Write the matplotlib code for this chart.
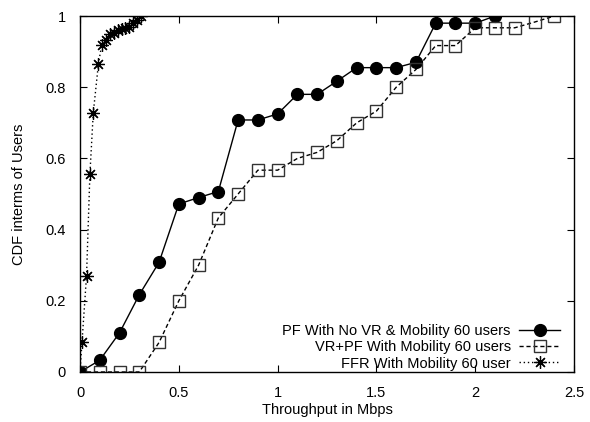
import matplotlib
matplotlib.use('Agg')
import matplotlib.pyplot as plt

# Throughput samples (Mbps) and CDF values
pf_x = [0.0, 0.1, 0.2, 0.3, 0.4, 0.5, 0.6, 0.7, 0.8, 0.9, 1.0,
        1.1, 1.2, 1.3, 1.4, 1.5, 1.6, 1.7, 1.8, 1.9, 2.0, 2.1]
pf_y = [0.0, 0.033, 0.11, 0.217, 0.308, 0.472, 0.49, 0.507, 0.708, 0.708, 0.725,
        0.78, 0.78, 0.817, 0.855, 0.855, 0.855, 0.87, 0.98, 0.98, 0.98, 1.0]

vrpf_x = [0.0, 0.1, 0.2, 0.3, 0.4, 0.5, 0.6, 0.7, 0.8, 0.9, 1.0, 1.1,
          1.2, 1.3, 1.4, 1.5, 1.6, 1.7, 1.8, 1.9, 2.0, 2.1, 2.2, 2.3, 2.4]
vrpf_y = [0.0, 0.0, 0.0, 0.0, 0.083, 0.2, 0.3, 0.433, 0.5, 0.567, 0.567, 0.6,
          0.617, 0.65, 0.7, 0.733, 0.8, 0.85, 0.917, 0.917, 0.967, 0.967, 0.967, 0.983, 1.0]

ffr_x = [0.0, 0.01, 0.033, 0.05, 0.067, 0.093, 0.11, 0.13, 0.15, 0.17,
         0.19, 0.21, 0.23, 0.25, 0.27, 0.29, 0.31]
ffr_y = [0.0, 0.083, 0.27, 0.555, 0.727, 0.865, 0.92, 0.933, 0.95, 0.953,
         0.96, 0.963, 0.967, 0.97, 0.98, 0.99, 1.0]

labels = ["PF With No VR & Mobility 60 users",
          "VR+PF With Mobility 60 users",
          "FFR With Mobility 60 user"]

xticks = [0, 0.5, 1, 1.5, 2, 2.5]
xticklabels = ["0", "0.5", "1", "1.5", "2", "2.5"]
yticks = [0, 0.2, 0.4, 0.6, 0.8, 1]
yticklabels = ["0", "0.2", "0.4", "0.6", "0.8", "1"]

plt.rcParams['font.family'] = ['Liberation Sans', 'DejaVu Sans']
plt.rcParams['font.size'] = 10.5

# Figure setup: 5.9 inch x 100 dpi = 590, 4.22 inch x 100 dpi = 422
fig = plt.figure(figsize=(5.9, 4.22), dpi=100)
host = fig.add_axes([0.1356, 0.1185, 0.8374, 0.8435])

host.plot(pf_x, pf_y, color='k', lw=1.0, ls='-', marker='o',
          markersize=8.5, markerfacecolor='k', label=labels[0])
host.plot(vrpf_x, vrpf_y, color='k', lw=1.0, ls=(0, (3, 2)), marker='s',
          markersize=8, markerfacecolor='none', markeredgecolor='#333333',
          markeredgewidth=1.0, label=labels[1])
host.plot(ffr_x, ffr_y, color='k', lw=1.0, ls=(0, (1, 2)), marker=(8, 2, 0),
          markersize=9, markeredgewidth=0.9, label=labels[2])

host.set_xlim(0, 2.5)
host.set_ylim(0, 1)
host.set_xticks(xticks)
host.set_xticklabels(xticklabels)
host.set_yticks(yticks)
host.set_yticklabels(yticklabels)
host.tick_params(direction='in', length=5, width=0.8, top=True, right=True, pad=10)
host.tick_params(axis='x', pad=10)
for sp in host.spines.values():
    sp.set_linewidth(1.0)

host.set_xlabel("Throughput in Mbps", labelpad=2)
host.set_ylabel("CDF interms of Users", labelpad=14)

# gnuplot-like key: markerfirst=False right-aligns the rows, sample on the right
leg = host.legend(loc='lower right', bbox_to_anchor=(0.972, 0.004), frameon=False,
                  markerfirst=False, handlelength=2.8, handletextpad=0.6,
                  labelspacing=0.15, borderaxespad=0.0, borderpad=0.0)

fig.savefig('out.png', dpi=100)
plt.close(fig)
